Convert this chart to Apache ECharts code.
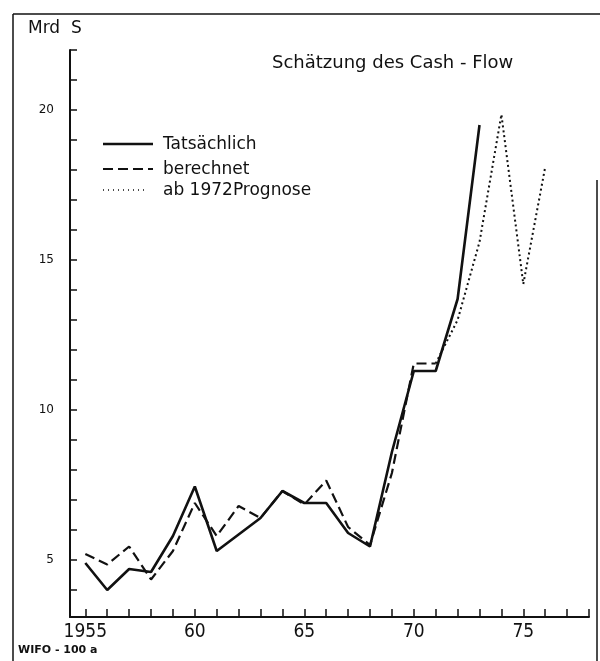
<!DOCTYPE html>
<html>
<head>
<meta charset="utf-8">
<script src="https://cdn.jsdelivr.net/npm/echarts@6/dist/echarts.min.js"></script>
<style>
  html, body { margin: 0; padding: 0; background: #fff; }
  #chart { width: 600px; height: 661px; }
</style>
</head>
<body>
<div id="chart"></div>
<script>
// Jahre / Werte (Mrd S)
const yearsActual = [1955, 1956, 1957, 1958, 1959, 1960, 1961, 1962, 1963, 1964,
  1965, 1966, 1967, 1968, 1969, 1970, 1971, 1972, 1973]
const actual = [4.9, 4.0, 4.7, 4.6, 5.8, 7.45, 5.3, 5.85, 6.4, 7.3,
  6.9, 6.9, 5.9, 5.45, 8.6, 11.3, 11.3, 13.7, 19.5]

const yearsCalc = [1955, 1956, 1957, 1958, 1959, 1960, 1961, 1962, 1963, 1964,
  1965, 1966, 1967, 1968, 1969, 1970, 1971]
const calculated = [5.2, 4.85, 5.45, 4.35, 5.3, 6.9, 5.8, 6.8, 6.4, 7.3,
  6.85, 7.65, 6.1, 5.5, 7.9, 11.55, 11.55]

const yearsForecast = [1971, 1972, 1973, 1974, 1975, 1976]
const forecast = [11.55, 13.0, 15.6, 19.85, 14.2, 18.1]

const xTicks = [1955, 1956, 1957, 1958, 1959, 1960, 1961, 1962, 1963, 1964, 1965, 1966,
  1967, 1968, 1969, 1970, 1971, 1972, 1973, 1974, 1975, 1976, 1977, 1978]
const xLabels = [1955, 1960, 1965, 1970, 1975]
const yTicks = [4, 5, 6, 7, 8, 9, 10, 11, 12, 13, 14, 15, 16, 17, 18, 19, 20, 21, 22]
const yLabels = [5, 10, 15, 20]

const seriesNames = ['Tatsächlich', 'berechnet', 'ab 1972Prognose']

const pairs = (xs, ys) => xs.map((x, i) => [x, ys[i]])

const ink = '#111'
const dashCalc = [10, 5]
const dashForecast = [2, 3]
const chart = echarts.init(document.getElementById('chart'))

// Legende von Hand (Linien ohne Symbol)
const legendItem = (y, dash, width, len, label) => [
  {
    type: 'line',
    shape: { x1: 103, y1: y, x2: 103 + len, y2: y },
    style: { stroke: ink, lineWidth: width, lineDash: dash }
  },
  {
    type: 'text', left: 163, top: y - 8,
    style: { text: label, font: '17px "DejaVu Sans"', fill: ink }
  }
]

const option = {
  backgroundColor: '#fff',
  animation: false,
  grid: { left: 70, right: 11, top: 50, bottom: 44 },
  xAxis: {
    type: 'value',
    min: 1954.3,
    max: 1978,
    splitLine: { show: false },
    axisLine: { lineStyle: { color: ink, width: 2 } },
    axisTick: {
      customValues: xTicks,
      inside: true,
      length: 8,
      lineStyle: { color: ink, width: 1.5 }
    },
    axisLabel: {
      customValues: xLabels,
      margin: 6,
      fontFamily: '"DejaVu Sans Condensed", "DejaVu Sans"',
      fontSize: 19,
      color: ink,
      formatter: v => (v === 1955 ? '1955' : String(v).slice(2))
    }
  },
  yAxis: {
    type: 'value',
    min: 3.1,
    max: 22,
    splitLine: { show: false },
    axisLine: { lineStyle: { color: ink, width: 2 } },
    axisTick: {
      customValues: yTicks,
      inside: true,
      length: 7,
      lineStyle: { color: ink, width: 1.5 }
    },
    axisLabel: {
      customValues: yLabels,
      margin: 16,
      fontFamily: 'DejaVu Sans',
      fontSize: 12,
      color: ink
    }
  },
  series: [
    {
      name: seriesNames[0],
      type: 'line',
      symbol: 'none',
      data: pairs(yearsActual, actual),
      lineStyle: { color: ink, width: 2.6, type: 'solid' }
    },
    {
      name: seriesNames[1],
      type: 'line',
      symbol: 'none',
      data: pairs(yearsCalc, calculated),
      lineStyle: { color: ink, width: 2.2, type: dashCalc }
    },
    {
      name: seriesNames[2],
      type: 'line',
      symbol: 'none',
      data: pairs(yearsForecast, forecast),
      lineStyle: { color: ink, width: 2, type: dashForecast }
    }
  ],
  graphic: [
    // Rahmen
    { type: 'line', shape: { x1: 13, y1: 14, x2: 600, y2: 14 }, style: { stroke: ink, lineWidth: 1.5 } },
    { type: 'line', shape: { x1: 13, y1: 14, x2: 13, y2: 661 }, style: { stroke: ink, lineWidth: 1.5 } },
    { type: 'line', shape: { x1: 597, y1: 180, x2: 597, y2: 661 }, style: { stroke: ink, lineWidth: 1.5 } },
    {
      type: 'text', left: 28, top: 20,
      style: { text: 'Mrd  S', font: '17px "DejaVu Sans"', fill: ink }
    },
    {
      type: 'text', left: 272, top: 54,
      style: { text: 'Schätzung des Cash - Flow', font: '18px "DejaVu Sans"', fill: ink }
    },
    {
      type: 'text', left: 18, top: 645,
      style: { text: 'WIFO - 100 a', font: 'bold 11px "DejaVu Sans"', fill: ink }
    },
    ...legendItem(144, null, 2.6, 50, seriesNames[0]),
    ...legendItem(169, dashCalc, 2.2, 50, seriesNames[1]),
    ...legendItem(190, [1, 4], 1.5, 42, seriesNames[2])
  ]
}

chart.setOption(option)
</script>
</body>
</html>
